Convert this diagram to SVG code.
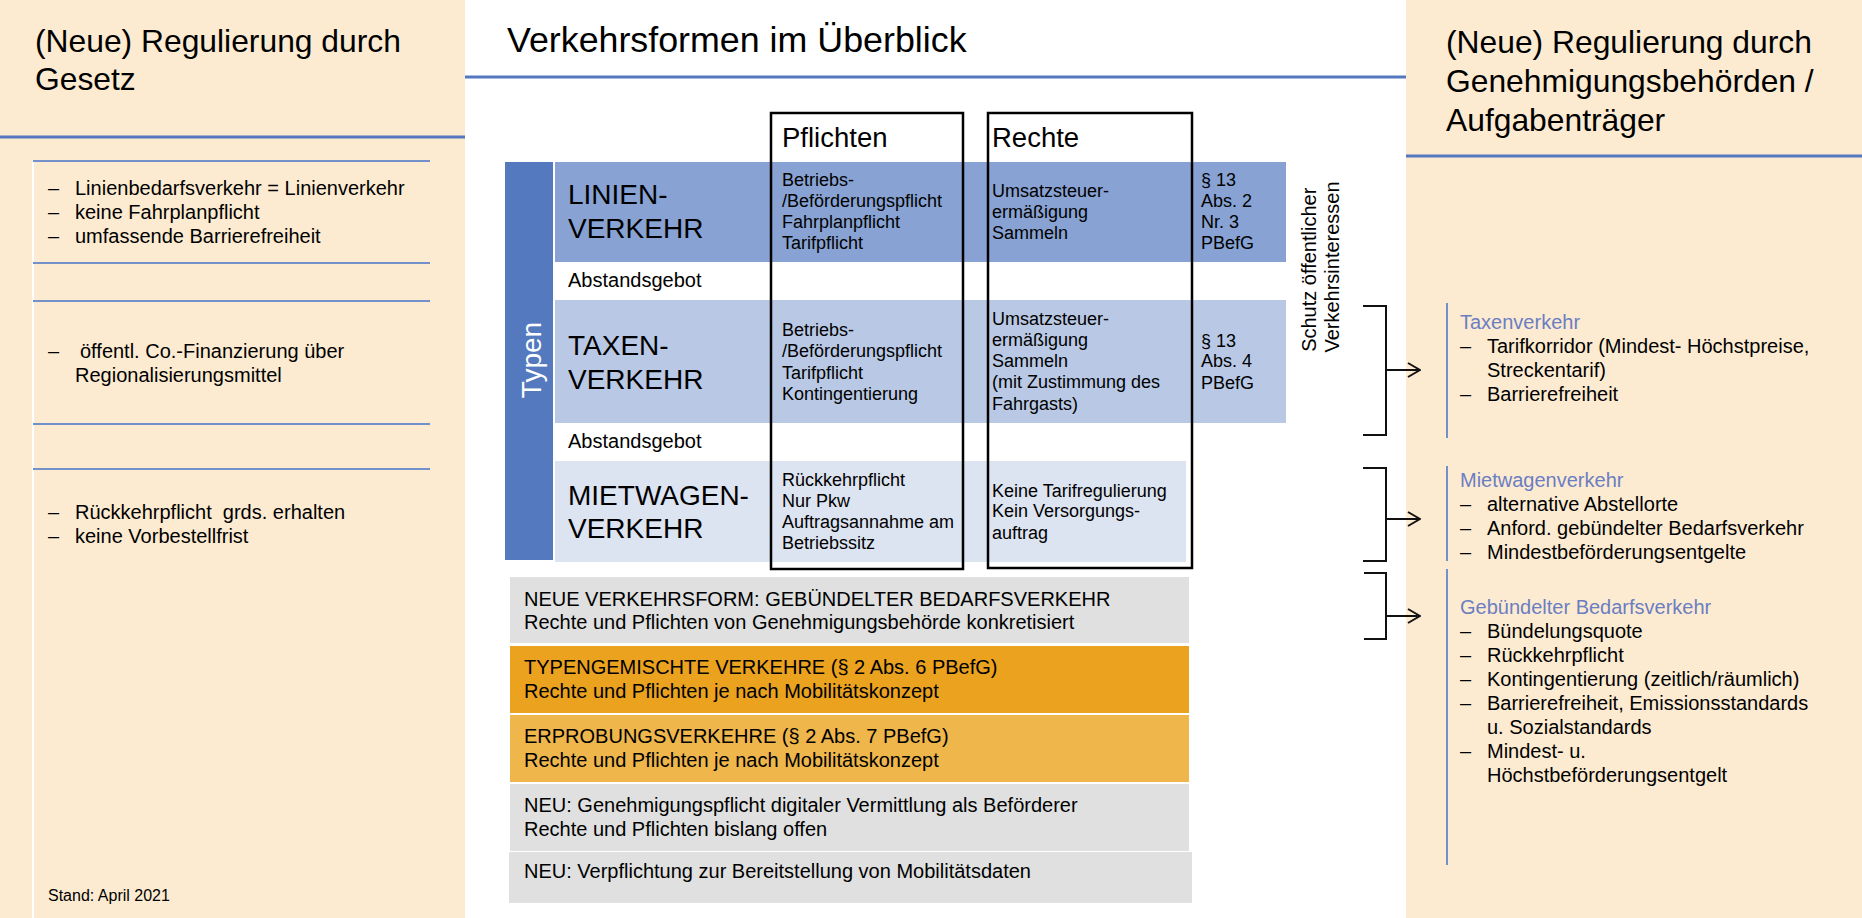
<svg xmlns="http://www.w3.org/2000/svg" width="1862" height="918" viewBox="0 0 1862 918">
<style>
text{font-family:"Liberation Sans",Arial,sans-serif;fill:#000}
.t32{font-size:31.8px}
.t35{font-size:35.8px}
.t28{font-size:28px}
.t26{font-size:27.5px}
.t20{font-size:20px}
.t18{font-size:18px}
.t16{font-size:16px}
.hd{fill:#6B7EC2}
.panel{fill:#FCEBD1}
.bl{stroke:#5577C0;stroke-width:3}
.tl{stroke:#7290CA;stroke-width:2}
.frame{fill:none;stroke:#000;stroke-width:2.5}
.br{fill:none;stroke:#111;stroke-width:2}
.grey{fill:#DFE0DF}
</style>
<defs>
<marker id="chev" viewBox="0 0 14 16" refX="13" refY="8" markerWidth="14" markerHeight="16" markerUnits="userSpaceOnUse" orient="auto">
<path d="M1,1 L13,8 L1,15" fill="none" stroke="#111" stroke-width="2"/>
</marker>
</defs>
<rect width="1862" height="918" fill="#fff"/>

<g id="left-panel">
<rect class="panel" x="0" y="0" width="465" height="918"/>
<text class="t32" x="35" y="52">(Neue) Regulierung durch</text>
<text class="t32" x="35" y="90">Gesetz</text>
<line class="bl" x1="0" y1="137" x2="465" y2="137"/>
<line x1="33" y1="161" x2="33" y2="918" stroke="#fff" stroke-width="2"/>
<line class="tl" x1="33" y1="161" x2="430" y2="161"/>
<line class="tl" x1="33" y1="263" x2="430" y2="263"/>
<line class="tl" x1="33" y1="301" x2="430" y2="301"/>
<line class="tl" x1="33" y1="424" x2="430" y2="424"/>
<line class="tl" x1="33" y1="469" x2="430" y2="469"/>
<g class="t20">
<text x="48" y="195">–</text><text x="75" y="195">Linienbedarfsverkehr = Linienverkehr</text>
<text x="48" y="219">–</text><text x="75" y="219">keine Fahrplanpflicht</text>
<text x="48" y="243">–</text><text x="75" y="243">umfassende Barrierefreiheit</text>
<text x="48" y="358">–</text><text x="80" y="358">öffentl. Co.-Finanzierung über</text>
<text x="75" y="382">Regionalisierungsmittel</text>
<text x="48" y="519">–</text><text x="75" y="519">Rückkehrpflicht&#160; grds. erhalten</text>
<text x="48" y="543">–</text><text x="75" y="543">keine Vorbestellfrist</text>
</g>
<text class="t16" x="48" y="901">Stand: April 2021</text>
</g>

<g id="center-title">
<text class="t35" x="507" y="52">Verkehrsformen im Überblick</text>
<line class="bl" x1="465" y1="77" x2="1406" y2="77"/>
</g>

<g id="typen">
<rect x="505" y="162" width="48" height="398" fill="#5479BE"/>
<text class="t28" transform="translate(541,360) rotate(-90)" text-anchor="middle" style="fill:#fff">Typen</text>
</g>

<g id="row-linien">
<rect x="555" y="162" width="731" height="100" fill="#88A3D3"/>
<text class="t28" x="568" y="204">LINIEN-</text>
<text class="t28" x="568" y="238">VERKEHR</text>
<g class="t18">
<text x="782" y="186">Betriebs-</text>
<text x="782" y="207">/Beförderungspflicht</text>
<text x="782" y="228">Fahrplanpflicht</text>
<text x="782" y="249">Tarifpflicht</text>
<text x="992" y="197">Umsatzsteuer-</text>
<text x="992" y="218">ermäßigung</text>
<text x="992" y="239">Sammeln</text>
<text x="1201" y="186">§ 13</text>
<text x="1201" y="207">Abs. 2</text>
<text x="1201" y="228">Nr. 3</text>
<text x="1201" y="249">PBefG</text>
</g>
</g>
<text class="t20" x="568" y="287">Abstandsgebot</text>

<g id="row-taxen">
<rect x="555" y="300" width="731" height="123" fill="#B9C9E5"/>
<text class="t28" x="568" y="355">TAXEN-</text>
<text class="t28" x="568" y="389">VERKEHR</text>
<g class="t18">
<text x="782" y="336">Betriebs-</text>
<text x="782" y="357">/Beförderungspflicht</text>
<text x="782" y="379">Tarifpflicht</text>
<text x="782" y="400">Kontingentierung</text>
<text x="992" y="325">Umsatzsteuer-</text>
<text x="992" y="346">ermäßigung</text>
<text x="992" y="367">Sammeln</text>
<text x="992" y="388">(mit Zustimmung des</text>
<text x="992" y="410">Fahrgasts)</text>
<text x="1201" y="347">§ 13</text>
<text x="1201" y="367">Abs. 4</text>
<text x="1201" y="389">PBefG</text>
</g>
</g>
<text class="t20" x="568" y="448">Abstandsgebot</text>

<g id="row-mietwagen">
<rect x="555" y="461" width="631" height="101" fill="#DCE3F1"/>
<text class="t28" x="568" y="505">MIETWAGEN-</text>
<text class="t28" x="568" y="538">VERKEHR</text>
<g class="t18">
<text x="782" y="486">Rückkehrpflicht</text>
<text x="782" y="507">Nur Pkw</text>
<text x="782" y="528">Auftragsannahme am</text>
<text x="782" y="549">Betriebssitz</text>
<text x="992" y="497">Keine Tarifregulierung</text>
<text x="992" y="517">Kein Versorgungs-</text>
<text x="992" y="539">auftrag</text>
</g>
</g>

<g id="pflichten">
<rect class="frame" x="771" y="113" width="192" height="456"/>
<text class="t26" x="782" y="147">Pflichten</text>
</g>
<g id="rechte">
<rect class="frame" x="988" y="113" width="204" height="455"/>
<text class="t26" x="992" y="147">Rechte</text>
</g>

<g id="schutz">
<text class="t20" transform="translate(1316,267) rotate(-90)" text-anchor="middle">
<tspan x="0" y="0">Schutz öffentlicher</tspan>
<tspan x="0" y="23">Verkehrsinteressen</tspan>
</text>
</g>

<g id="box-neue-form">
<rect class="grey" x="510" y="577" width="679" height="66"/>
<text class="t20" x="524" y="606">NEUE VERKEHRSFORM: GEBÜNDELTER BEDARFSVERKEHR</text>
<text class="t20" x="524" y="629">Rechte und Pflichten von Genehmigungsbehörde konkretisiert</text>
</g>
<g id="box-typengemischt">
<rect x="510" y="646" width="679" height="67" fill="#EAA21F"/>
<text class="t20" x="524" y="674">TYPENGEMISCHTE VERKEHRE (§ 2 Abs. 6 PBefG)</text>
<text class="t20" x="524" y="698">Rechte und Pflichten je nach Mobilitätskonzept</text>
</g>
<g id="box-erprobung">
<rect x="510" y="715" width="679" height="67" fill="#EEB64B"/>
<text class="t20" x="524" y="743">ERPROBUNGSVERKEHRE (§ 2 Abs. 7 PBefG)</text>
<text class="t20" x="524" y="767">Rechte und Pflichten je nach Mobilitätskonzept</text>
</g>
<g id="box-vermittlung">
<rect class="grey" x="510" y="784" width="679" height="67"/>
<text class="t20" x="524" y="812">NEU: Genehmigungspflicht digitaler Vermittlung als Beförderer</text>
<text class="t20" x="524" y="836">Rechte und Pflichten bislang offen</text>
</g>
<g id="box-mobilitaetsdaten">
<rect class="grey" x="509" y="852" width="683" height="51"/>
<text class="t20" x="524" y="878">NEU: Verpflichtung zur Bereitstellung von Mobilitätsdaten</text>
</g>

<g id="right-panel">
<rect class="panel" x="1406" y="0" width="456" height="918"/>
<text class="t32" x="1446" y="53">(Neue) Regulierung durch</text>
<text class="t32" x="1446" y="92">Genehmigungsbehörden /</text>
<text class="t32" x="1446" y="131">Aufgabenträger</text>
<line class="bl" x1="1406" y1="156" x2="1862" y2="156"/>
</g>

<g id="reg-taxen">
<line class="tl" x1="1447" y1="303" x2="1447" y2="438"/>
<g class="t20">
<text class="hd" x="1460" y="329">Taxenverkehr</text>
<text x="1460" y="353">–</text><text x="1487" y="353">Tarifkorridor (Mindest- Höchstpreise,</text>
<text x="1487" y="377">Streckentarif)</text>
<text x="1460" y="401">–</text><text x="1487" y="401">Barrierefreiheit</text>
</g>
</g>
<g id="reg-mietwagen">
<line class="tl" x1="1447" y1="466" x2="1447" y2="561"/>
<g class="t20">
<text class="hd" x="1460" y="487">Mietwagenverkehr</text>
<text x="1460" y="511">–</text><text x="1487" y="511">alternative Abstellorte</text>
<text x="1460" y="535">–</text><text x="1487" y="535">Anford. gebündelter Bedarfsverkehr</text>
<text x="1460" y="559">–</text><text x="1487" y="559">Mindestbeförderungsentgelte</text>
</g>
</g>
<g id="reg-gebuendelt">
<line class="tl" x1="1447" y1="569" x2="1447" y2="865"/>
<g class="t20">
<text class="hd" x="1460" y="614">Gebündelter Bedarfsverkehr</text>
<text x="1460" y="638">–</text><text x="1487" y="638">Bündelungsquote</text>
<text x="1460" y="662">–</text><text x="1487" y="662">Rückkehrpflicht</text>
<text x="1460" y="686">–</text><text x="1487" y="686">Kontingentierung (zeitlich/räumlich)</text>
<text x="1460" y="710">–</text><text x="1487" y="710">Barrierefreiheit, Emissionsstandards</text>
<text x="1487" y="734">u. Sozialstandards</text>
<text x="1460" y="758">–</text><text x="1487" y="758">Mindest- u.</text>
<text x="1487" y="782">Höchstbeförderungsentgelt</text>
</g>
</g>

<g id="connectors">
<path class="br" d="M1363,306 H1386 V435 H1363"/>
<line class="br" x1="1386" y1="370" x2="1420" y2="370" marker-end="url(#chev)"/>
<path class="br" d="M1363,468 H1386 V561 H1363"/>
<line class="br" x1="1386" y1="519" x2="1420" y2="519" marker-end="url(#chev)"/>
<path class="br" d="M1364,573 H1386 V639 H1364"/>
<line class="br" x1="1386" y1="616" x2="1420" y2="616" marker-end="url(#chev)"/>
</g>
</svg>
